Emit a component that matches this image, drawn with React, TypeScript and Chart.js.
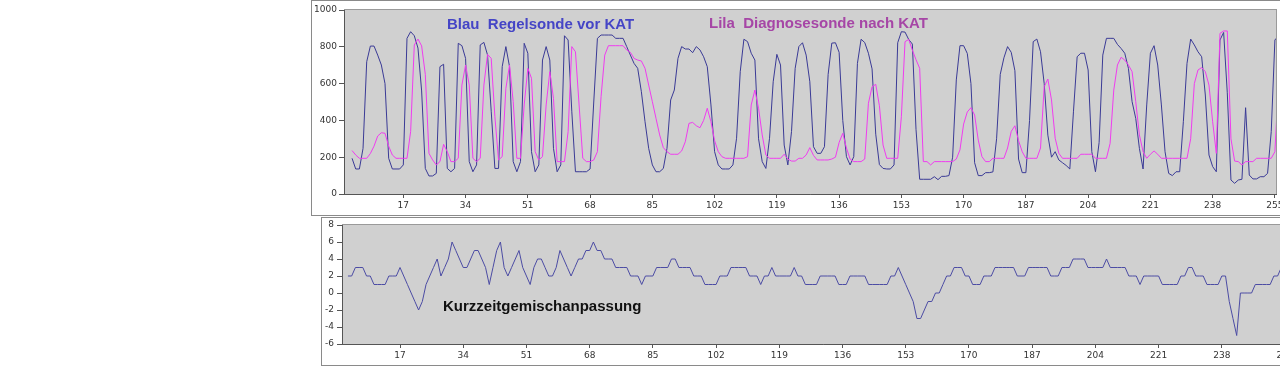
import React, { useEffect, useRef } from 'react';
import { Chart, registerables } from 'chart.js';

Chart.register(...registerables);

// first sample index of every series
const START_INDEX = 3;

// Blau: Regelsonde vor KAT (mV)
const blauRegelsonde = [
  194, 136, 136, 248, 719, 804, 804, 755, 701, 600,
  194, 136, 136, 136, 158, 846, 882, 860, 793, 560,
  139, 98, 98, 112, 692, 705, 139, 121, 139, 819,
  806, 737, 176, 121, 158, 810, 824, 755, 450, 139,
  139, 692, 801, 692, 176, 121, 176, 819, 765, 230,
  121, 158, 728, 801, 728, 248, 121, 158, 860, 837,
  450, 121, 121, 121, 121, 136, 500, 846, 864, 864,
  864, 864, 846, 846, 846, 801, 755, 710, 683, 556,
  393, 248, 158, 121, 121, 139, 248, 511, 565, 737,
  801, 788, 788, 768, 801, 783, 746, 692, 484, 230,
  158, 136, 136, 136, 158, 303, 665, 841, 828, 765,
  728, 300, 176, 139, 303, 610, 759, 701, 266, 158,
  339, 683, 801, 822, 755, 610, 257, 221, 221, 257,
  650, 820, 822, 770, 400, 203, 158, 203, 710, 841,
  823, 765, 680, 325, 160, 139, 136, 136, 158, 822,
  882, 880, 840, 815, 350, 80, 80, 80, 80, 94,
  78, 96, 96, 100, 200, 620, 806, 806, 764, 600,
  170, 100, 100, 116, 116, 120, 300, 650, 740, 801,
  770, 670, 190, 116, 116, 400, 828, 842, 773, 600,
  320, 200, 230, 185, 170, 155, 136, 450, 746, 765,
  765, 674, 230, 121, 280, 755, 846, 846, 846, 813,
  791, 765, 683, 502, 411, 248, 136, 484, 765, 806,
  701, 484, 230, 112, 100, 121, 121, 393, 710, 842,
  810, 773, 746, 538, 212, 149, 121, 837, 878, 550,
  76, 58, 76, 80, 469, 103, 82, 82, 94, 94,
  112, 339, 837, 860,
];

// Lila: Diagnosesonde nach KAT (mV)
const lilaDiagnosesonde = [
  236, 212, 194, 194, 194, 220, 260, 315, 333, 330,
  260, 212, 194, 194, 194, 194, 340, 810, 842, 805,
  650, 221, 185, 158, 176, 270, 230, 176, 176, 194,
  592, 701, 592, 194, 176, 194, 592, 759, 737, 420,
  185, 203, 574, 701, 502, 194, 194, 484, 683, 629,
  230, 185, 203, 484, 665, 520, 176, 176, 176, 339,
  801, 773, 484, 194, 176, 176, 185, 230, 530, 755,
  806, 806, 806, 806, 806, 783, 770, 737, 728, 723,
  683, 592, 502, 411, 321, 252, 230, 216, 216, 216,
  234, 284, 384, 389, 371, 360, 400, 466, 393, 290,
  230, 203, 194, 194, 194, 194, 194, 194, 203, 484,
  565, 466, 321, 212, 194, 194, 194, 194, 216, 190,
  179, 179, 194, 194, 212, 252, 210, 185, 185, 185,
  185, 190, 200, 280, 330, 250, 190, 176, 176, 176,
  190, 493, 583, 596, 480, 266, 194, 194, 194, 194,
  420, 828, 840, 782, 730, 683, 176, 176, 158, 176,
  176, 176, 176, 176, 176, 190, 240, 380, 446, 469,
  429, 293, 203, 176, 176, 194, 194, 194, 194, 250,
  340, 371, 290, 230, 194, 194, 194, 194, 250, 583,
  625, 511, 303, 221, 194, 194, 194, 194, 194, 216,
  216, 216, 216, 194, 194, 194, 194, 275, 565, 701,
  743, 728, 701, 665, 502, 321, 230, 194, 216, 234,
  216, 194, 194, 194, 194, 194, 194, 194, 194, 300,
  600, 674, 687, 665, 592, 393, 221, 873, 886, 886,
  300, 179, 176, 158, 176, 176, 176, 194, 194, 194,
  194, 194, 230, 620,
];

// Kurzzeitgemischanpassung (%)
const kurzzeitAnpassung = [
  2, 2, 3, 3, 3, 2, 2, 1, 1, 1,
  1, 2, 2, 2, 3, 2, 1, 0, -1, -2,
  -1, 1, 2, 3, 4, 2, 3, 4, 6, 5,
  4, 3, 3, 4, 5, 5, 4, 3, 1, 3,
  5, 6, 3, 2, 3, 4, 5, 3, 2, 1,
  3, 4, 4, 3, 2, 2, 3, 5, 4, 3,
  2, 3, 4, 4, 5, 5, 6, 5, 5, 4,
  4, 4, 3, 3, 3, 3, 2, 2, 2, 1,
  2, 2, 2, 3, 3, 3, 3, 4, 4, 3,
  3, 3, 3, 2, 2, 2, 1, 1, 1, 1,
  2, 2, 2, 3, 3, 3, 3, 3, 2, 2,
  2, 1, 2, 2, 3, 2, 2, 2, 2, 2,
  3, 2, 2, 1, 1, 1, 1, 2, 2, 2,
  2, 2, 1, 1, 1, 2, 2, 2, 2, 2,
  1, 1, 1, 1, 1, 1, 2, 2, 3, 2,
  1, 0, -1, -3, -3, -2, -1, -1, 0, 0,
  1, 2, 2, 3, 3, 3, 2, 2, 1, 1,
  1, 2, 2, 2, 3, 3, 3, 3, 3, 3,
  2, 2, 2, 3, 3, 3, 3, 3, 3, 2,
  2, 2, 3, 3, 3, 4, 4, 4, 4, 3,
  3, 3, 3, 3, 4, 3, 3, 3, 3, 3,
  2, 2, 2, 1, 2, 2, 2, 2, 2, 1,
  1, 1, 1, 1, 2, 2, 3, 3, 2, 2,
  2, 1, 1, 1, 1, 2, 2, -1, -3, -5,
  0, 0, 0, 0, 1, 1, 1, 1, 1, 2,
  2, 3, 3, 3,
];

const xTickValues = [17, 34, 51, 68, 85, 102, 119, 136, 153, 170, 187, 204, 221, 238, 255];
const topYTickValues = [0, 200, 400, 600, 800, 1000];
const bottomYTickValues = [-6, -4, -2, 0, 2, 4, 6, 8];

const toPoints = (arr: number[]) => arr.map((v, i) => ({ x: START_INDEX + i, y: v }));

const tickFont = { family: 'DejaVu Sans', size: 9 };
const AXIS_COLOR = '#555555';
const TICK_TEXT = '#333333';

const plotBackground = {
  id: 'plotBackground',
  beforeDraw(chart: any) {
    const { ctx, chartArea: a } = chart;
    ctx.save();
    ctx.fillStyle = '#d0d0d0';
    ctx.fillRect(a.left, a.top, a.right - a.left, a.bottom - a.top);
    ctx.strokeStyle = '#9a9a9a';
    ctx.lineWidth = 1;
    ctx.strokeRect(Math.round(a.left) + 0.5, Math.round(a.top) - 0.5, Math.round(a.right - a.left), Math.round(a.bottom - a.top) + 1);
    ctx.restore();
  },
};

function xScale(min: number, max: number) {
  return {
    type: 'linear',
    min,
    max,
    afterBuildTicks: (s: any) => {
      s.ticks = xTickValues.map((v) => ({ value: v }));
    },
    afterFit: (s: any) => {
      s.height = 22;
    },
    grid: { drawOnChartArea: false, drawTicks: true, tickLength: 4, color: AXIS_COLOR, lineWidth: 1 },
    border: { display: true, color: AXIS_COLOR, width: 1 },
    ticks: {
      font: tickFont,
      color: TICK_TEXT,
      padding: 2,
      maxRotation: 0,
      autoSkip: false,
      callback: (v: any) => String(v),
    },
  };
}

function yScale(min: number, max: number, values: number[], width: number, pad: number) {
  return {
    type: 'linear',
    min,
    max,
    afterBuildTicks: (s: any) => {
      s.ticks = values.map((v) => ({ value: v }));
    },
    afterFit: (s: any) => {
      s.width = width;
    },
    grid: { drawOnChartArea: false, drawTicks: true, tickLength: 5, color: AXIS_COLOR, lineWidth: 1 },
    border: { display: true, color: AXIS_COLOR, width: 1 },
    ticks: {
      font: tickFont,
      color: TICK_TEXT,
      padding: pad,
      autoSkip: false,
      callback: (v: any) => String(v),
    },
  };
}

const titleStyle: React.CSSProperties = {
  position: 'absolute',
  fontFamily: '"Liberation Sans", Arial, sans-serif',
  fontWeight: 'bold',
  fontSize: 15,
  lineHeight: '15px',
  whiteSpace: 'pre',
};

export default function App() {
  const topRef = useRef<HTMLCanvasElement>(null);
  const bottomRef = useRef<HTMLCanvasElement>(null);

  useEffect(() => {
    const top = new Chart(topRef.current as HTMLCanvasElement, {
      type: 'line',
      data: {
        datasets: [
          {
            label: 'Lila Diagnosesonde nach KAT',
            data: toPoints(lilaDiagnosesonde),
            borderColor: '#f03cf0',
            borderWidth: 1,
            pointRadius: 0,
            tension: 0,
          },
          {
            label: 'Blau Regelsonde vor KAT',
            data: toPoints(blauRegelsonde),
            borderColor: '#3a3a96',
            borderWidth: 1,
            pointRadius: 0,
            tension: 0,
          },
        ],
      },
      options: {
        responsive: false,
        animation: false,
        devicePixelRatio: 1,
        events: [],
        layout: { padding: { top: 10, right: 124, bottom: 0, left: 0 } },
        plugins: { legend: { display: false }, tooltip: { enabled: false }, title: { display: false } },
        scales: {
          x: xScale(0.8, 255.3),
          y: yScale(0, 1000, topYTickValues, 344, 2),
        } as any,
      },
      plugins: [plotBackground],
    } as any);

    const bottom = new Chart(bottomRef.current as HTMLCanvasElement, {
      type: 'line',
      data: {
        datasets: [
          {
            label: 'Kurzzeitgemischanpassung',
            data: toPoints(kurzzeitAnpassung),
            borderColor: '#4c4ca4',
            borderWidth: 1,
            pointRadius: 0,
            tension: 0,
          },
        ],
      },
      options: {
        responsive: false,
        animation: false,
        devicePixelRatio: 1,
        events: [],
        layout: { padding: { top: 9, right: 96, bottom: 0, left: 0 } },
        plugins: { legend: { display: false }, tooltip: { enabled: false }, title: { display: false } },
        scales: {
          x: xScale(1.4, 260.1),
          y: yScale(-6, 8, bottomYTickValues, 342, 3),
        } as any,
      },
      plugins: [plotBackground],
    } as any);

    return () => {
      top.destroy();
      bottom.destroy();
    };
  }, []);

  return (
    <div
      style={{
        position: 'absolute',
        left: 0,
        top: 0,
        width: 1280,
        height: 390,
        overflow: 'hidden',
        background: '#ffffff',
      }}
    >
      <div
        style={{
          position: 'absolute',
          left: 311,
          top: 0,
          width: 1100,
          height: 216,
          border: '1px solid #8a8a8a',
          boxSizing: 'border-box',
        }}
      />
      <div
        style={{
          position: 'absolute',
          left: 321,
          top: 217,
          width: 1100,
          height: 149,
          border: '1px solid #8a8a8a',
          boxSizing: 'border-box',
        }}
      />
      <canvas
        ref={topRef}
        width={1400}
        height={216}
        style={{ position: 'absolute', left: 0, top: 0, width: 1400, height: 216 }}
      />
      <canvas
        ref={bottomRef}
        width={1400}
        height={150}
        style={{ position: 'absolute', left: 0, top: 216, width: 1400, height: 150 }}
      />
      <div style={{ ...titleStyle, left: 447, top: 16, color: '#4545c6' }}>Blau  Regelsonde vor KAT</div>
      <div style={{ ...titleStyle, left: 709, top: 15, color: '#a646a6' }}>Lila  Diagnosesonde nach KAT</div>
      <div style={{ ...titleStyle, left: 443, top: 298, color: '#111111' }}>Kurzzeitgemischanpassung</div>
    </div>
  );
}
